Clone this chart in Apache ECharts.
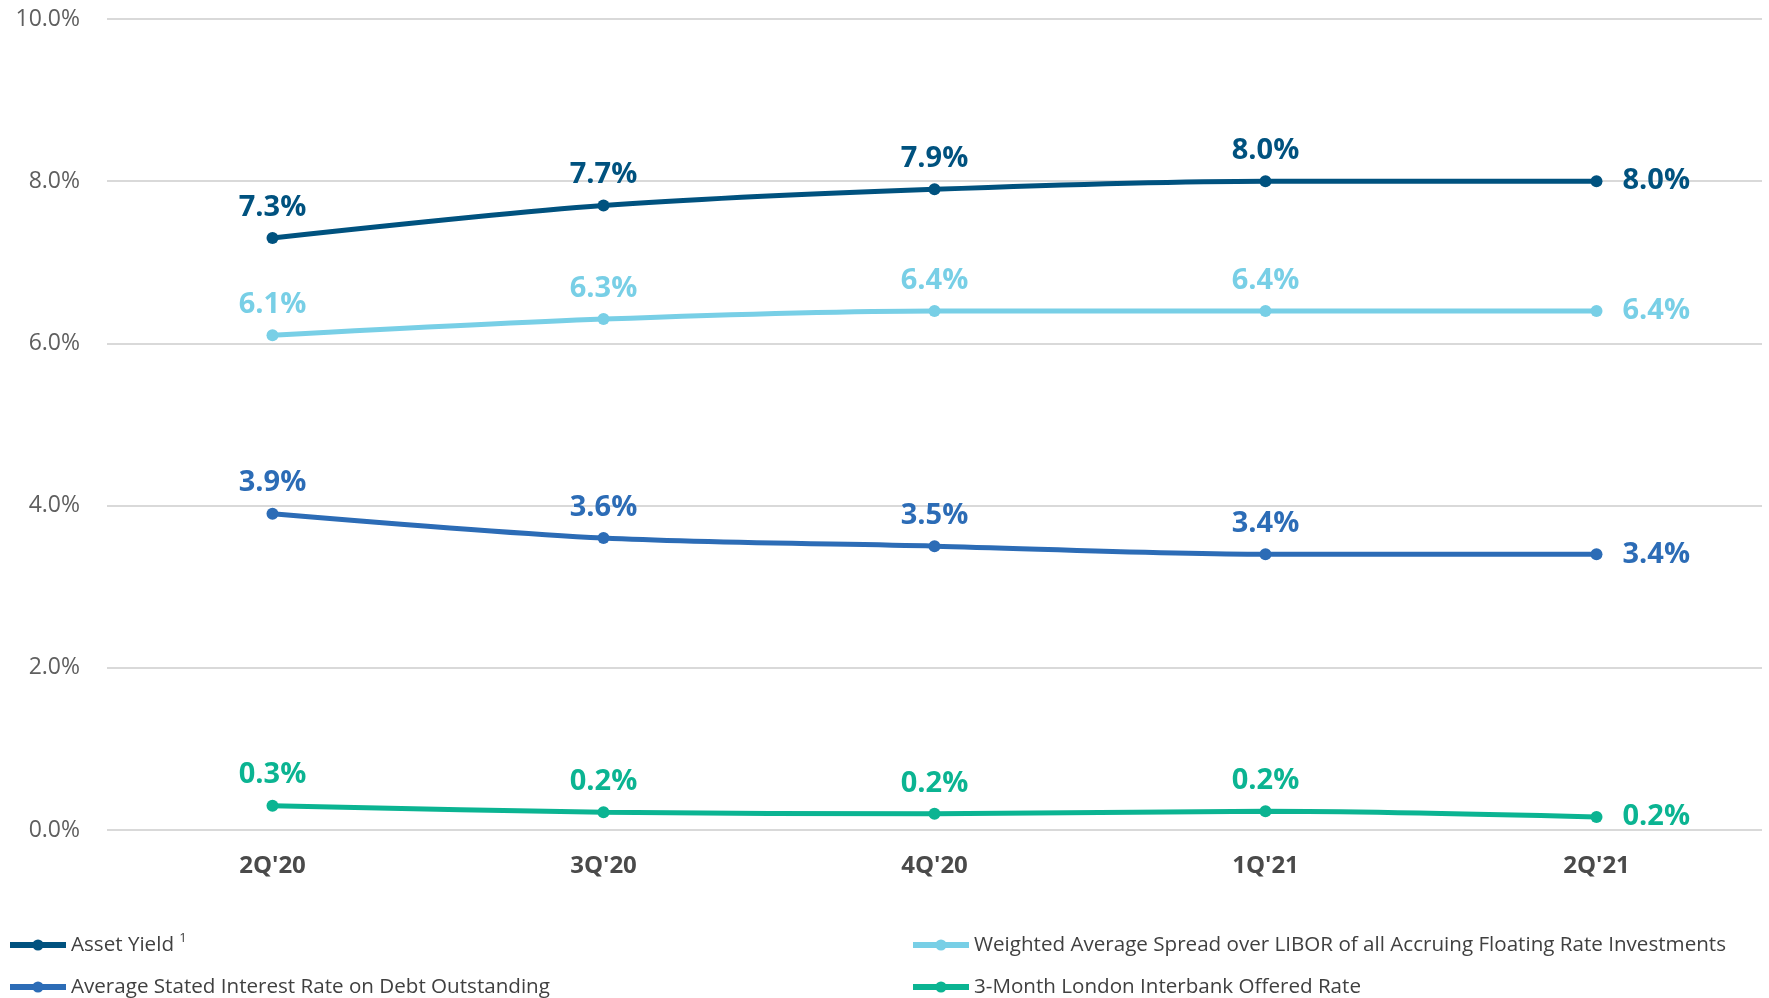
<!DOCTYPE html>
<html>
<head>
<meta charset="utf-8">
<script src="https://cdn.jsdelivr.net/npm/echarts@6/dist/echarts.min.js"></script>
<style>
  html, body { margin: 0; padding: 0; background: #fff; }
  #chart { width: 1769px; height: 998px; }
</style>
</head>
<body>
<div id="chart"></div>
<script>
var quarters = ["2Q'20", "3Q'20", "4Q'20", "1Q'21", "2Q'21"];
var assetYield = [7.3, 7.7, 7.9, 8.0, 8.0];
var spreadOverLibor = [6.1, 6.3, 6.4, 6.4, 6.4];
var debtRate = [3.9, 3.6, 3.5, 3.4, 3.4];
var libor3m = [0.30, 0.22, 0.20, 0.23, 0.16];
var yTicks = [0, 2, 4, 6, 8, 10];

var names = [
  "Asset Yield",
  "Weighted Average Spread over LIBOR of all Accruing Floating Rate Investments",
  "Average Stated Interest Rate on Debt Outstanding",
  "3-Month London Interbank Offered Rate"
];
var colors = ["#00527F", "#78CFE6", "#2C6CB6", "#0BB492"];

var myChart = echarts.init(document.getElementById("chart"));

function makeSeries(name, values, color) {
  return {
    name: name,
    type: "line",
    data: values.map(function (v, i) {
      var last = i === values.length - 1;
      return {
        value: v,
        label: last ? { position: "right", distance: 20 } : { position: "top", distance: 10 }
      };
    }),
    smooth: 0.3,
    symbol: "circle",
    symbolSize: 12,
    lineStyle: { width: 5, color: color },
    itemStyle: { color: color },
    label: {
      show: true,
      color: color,
      fontFamily: "Open Sans",
      fontWeight: "bold",
      fontSize: 29,
      formatter: function (p) { return p.value.toFixed(1) + "%"; }
    }
  };
}

// one legend per item so the two columns sit where the original has them
function makeLegend(name, left, top) {
  return {
    data: [name],
    left: left,
    top: top,
    padding: 0,
    itemWidth: 56,
    itemHeight: 14,
    lineStyle: { width: 6 },
    textStyle: {
      fontFamily: "Open Sans",
      fontSize: 20.6,
      lineHeight: 26,
      color: "#404040",
      rich: {
        sup: { fontFamily: "Open Sans", fontSize: 13, color: "#404040", verticalAlign: "top", padding: [0, 0, 12, 0] }
      }
    },
    formatter: function (n) { return n === names[0] ? n + " {sup|1}" : n; }
  };
}

var option = {
  animation: false,
  grid: { left: 107, right: 7, top: 19, bottom: 168, containLabel: false },
  xAxis: {
    type: "category",
    data: quarters,
    boundaryGap: true,
    axisLine: { show: false },
    axisTick: { show: false },
    axisLabel: {
      margin: 24,
      fontFamily: "Open Sans",
      fontWeight: "bold",
      fontSize: 24,
      color: "#4a4a4a"
    }
  },
  yAxis: {
    type: "value",
    min: yTicks[0],
    max: yTicks[yTicks.length - 1],
    interval: 2,
    axisLine: { show: false },
    axisTick: { show: false },
    splitLine: { lineStyle: { color: "#d9d9d9", width: 2 } },
    axisLabel: {
      margin: 27,
      fontFamily: "Open Sans",
      fontSize: 23,
      color: "#5f5f5f",
      formatter: function (v) { return v.toFixed(1) + "%"; }
    }
  },
  legend: [
    makeLegend(names[0], 7, 932),
    makeLegend(names[2], 7, 974),
    makeLegend(names[1], 910, 932),
    makeLegend(names[3], 910, 974)
  ],
  series: [
    makeSeries(names[0], assetYield, colors[0]),
    makeSeries(names[1], spreadOverLibor, colors[1]),
    makeSeries(names[2], debtRate, colors[2]),
    makeSeries(names[3], libor3m, colors[3])
  ]
};

myChart.setOption(option);
</script>
</body>
</html>
